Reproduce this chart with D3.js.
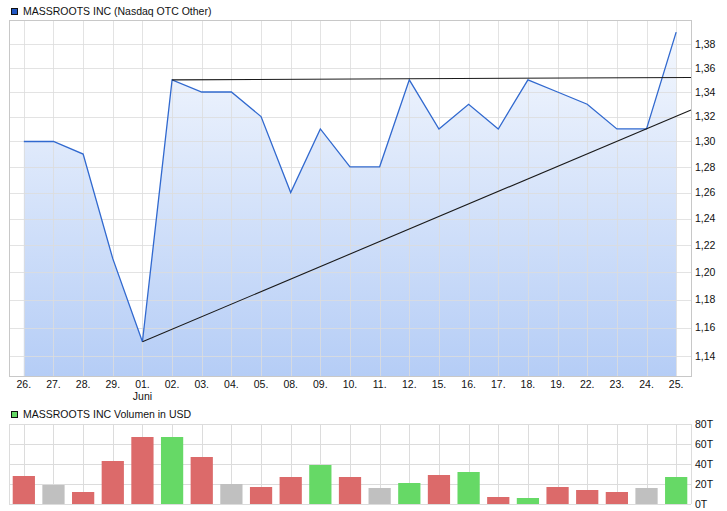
<!DOCTYPE html>
<html><head><meta charset="utf-8">
<script src="https://cdn.jsdelivr.net/npm/d3@7/dist/d3.min.js"></script>
<style>
body{margin:0;background:#fff;}
svg{display:block;font-family:"Liberation Sans",Arial,sans-serif;}
</style></head>
<body>
<svg id="c" width="727" height="511"></svg>
<script>
const categories = ["26.","27.","28.","29.","01.","02.","03.","04.","05.","08.","09.","10.","11.","12.","15.","16.","17.","18.","19.","22.","23.","24.","25."];
const prices = [1.30,1.30,1.29,1.21,1.15,1.35,1.34,1.34,1.32,1.26,1.31,1.28,1.28,1.35,1.31,1.33,1.31,1.35,1.34,1.33,1.31,1.31,1.39];
const volumes = [28,19,12,43,67,67,47,20,17,27,39,27,16,21,29,32,7,6,17,14,12,16,27]; // thousands USD
const priceTicks = [1.14,1.16,1.18,1.20,1.22,1.24,1.26,1.28,1.30,1.32,1.34,1.36,1.38];
const volumeTicks = [0,20,40,60,80];
const monthLabels = [{cat:"01.", label:"Juni"}];
// trend lines: index positions (22.5 = right edge of plot)
const trendLines = [
  {x1:5, y1:1.35, x2:22.5, y2:1.352},
  {x1:4, y1:1.15, x2:22.5, y2:1.3253}
];
const title1 = "MASSROOTS INC (Nasdaq OTC Other)";
const title2 = "MASSROOTS INC Volumen in USD";

const FS = 10.5;
const svg = d3.select("#c");
const L = 9, R = 691;
const top1 = 20, bot1 = 376;
const top2 = 424, bot2 = 504;
const gridCol = "#dcdcdc", borderCol = "#c8c8c8";

const xi = d3.scaleLinear().domain([-0.5, categories.length - 0.5]).range([L, R]);
const xb = d3.scaleBand().domain(categories).range([L, R]).paddingInner(0.25).paddingOuter(0.125);
const y = d3.scaleLog().domain([1.1261, 1.4004]).range([bot1, top1]);
const yv = d3.scaleLinear().domain([0, 80]).range([bot2, top2]);

// gradient
const defs = svg.append("defs");
const g = defs.append("linearGradient").attr("id","fillg").attr("gradientUnits","userSpaceOnUse")
  .attr("x1",0).attr("x2",0).attr("y1",top1).attr("y2",bot1);
g.append("stop").attr("offset","0%").attr("stop-color","#f6f9fe");
g.append("stop").attr("offset","100%").attr("stop-color","#b5cdf6");

// ---- price chart ----
const p = svg.append("g");
p.append("rect").attr("x",L).attr("y",top1).attr("width",R-L).attr("height",bot1-top1).attr("fill","#fff");

const area = d3.area().x((d,i)=>xi(i)).y0(bot1).y1(d=>y(d));
p.append("path").datum(prices).attr("d",area).attr("fill","url(#fillg)");

// grid
p.selectAll(".vg").data(categories).join("line")
  .attr("x1",(d,i)=>Math.round(xi(i))+0.5).attr("x2",(d,i)=>Math.round(xi(i))+0.5)
  .attr("y1",top1).attr("y2",bot1).attr("stroke",gridCol).attr("stroke-opacity",0.8);
p.selectAll(".hg").data(priceTicks).join("line")
  .attr("x1",L).attr("x2",R).attr("y1",d=>Math.round(y(d))+0.5).attr("y2",d=>Math.round(y(d))+0.5)
  .attr("stroke",gridCol).attr("stroke-opacity",0.8);

const line = d3.line().x((d,i)=>xi(i)).y(d=>y(d));
p.append("path").datum(prices).attr("d",line).attr("fill","none").attr("stroke","#3169cf").attr("stroke-width",1.3);

p.selectAll(".tl").data(trendLines).join("line")
  .attr("x1",d=>xi(d.x1)).attr("y1",d=>y(d.y1)).attr("x2",d=>xi(d.x2)).attr("y2",d=>y(d.y2))
  .attr("stroke","#1a1a1a").attr("stroke-width",1.1);

p.append("rect").attr("x",L+0.5).attr("y",top1+0.5).attr("width",R-L).attr("height",bot1-top1)
  .attr("fill","none").attr("stroke",borderCol);

// y axis labels
p.selectAll(".yl").data(priceTicks).join("text")
  .attr("x",R+4).attr("y",d=>y(d)).attr("dy","0.36em")
  .attr("font-size",FS).attr("fill","#111")
  .text(d=>d3.format(".2f")(d).replace(".",","));

// x labels
p.selectAll(".xl").data(categories).join("text")
  .attr("x",(d,i)=>xi(i)).attr("y",388).attr("text-anchor","middle")
  .attr("font-size",FS).attr("fill","#111").text(d=>d);
p.selectAll(".ml").data(monthLabels).join("text")
  .attr("x",d=>xi(categories.indexOf(d.cat))).attr("y",399.5).attr("text-anchor","middle")
  .attr("font-size",FS).attr("fill","#111").text(d=>d.label);

// legend 1
svg.append("rect").attr("x",11.5).attr("y",8.5).attr("width",6).attr("height",6)
  .attr("fill","#2258c4").attr("stroke","#111");
svg.append("text").attr("x",23).attr("y",15).attr("font-size",FS).attr("fill","#111").text(title1);

// ---- volume chart ----
const v = svg.append("g");
v.selectAll(".vg2").data(categories).join("line")
  .attr("x1",(d,i)=>Math.round(xi(i))+0.5).attr("x2",(d,i)=>Math.round(xi(i))+0.5)
  .attr("y1",top2).attr("y2",bot2).attr("stroke",gridCol);
v.selectAll(".hg2").data(volumeTicks).join("line")
  .attr("x1",L).attr("x2",R).attr("y1",d=>Math.round(yv(d))+0.5).attr("y2",d=>Math.round(yv(d))+0.5)
  .attr("stroke",gridCol);
v.append("line").attr("x1",L+0.5).attr("x2",L+0.5).attr("y1",top2).attr("y2",bot2).attr("stroke",gridCol);
v.append("line").attr("x1",R+0.5).attr("x2",R+0.5).attr("y1",top2).attr("y2",bot2).attr("stroke",gridCol);

const colorOf = i => {
  if (i === 0) return "#dc6a6a";
  const d = prices[i] - prices[i-1];
  return Math.abs(d) < 1e-9 ? "#c0c0c0" : (d > 0 ? "#66d966" : "#dc6a6a");
};
v.selectAll(".bar").data(volumes).join("rect")
  .attr("x",(d,i)=>xb(categories[i])).attr("width",xb.bandwidth())
  .attr("y",d=>yv(d)).attr("height",d=>yv(0)-yv(d))
  .attr("fill",(d,i)=>colorOf(i));

v.selectAll(".vl").data(volumeTicks).join("text")
  .attr("x",R+4).attr("y",d=>yv(d)).attr("dy","0.36em")
  .attr("font-size",FS).attr("fill","#111").text(d=>d+"T");

svg.append("rect").attr("x",11.5).attr("y",411.5).attr("width",6).attr("height",6)
  .attr("fill","#66d966").attr("stroke","#111");
svg.append("text").attr("x",23).attr("y",418).attr("font-size",FS).attr("fill","#111").text(title2);
</script>
</body></html>
